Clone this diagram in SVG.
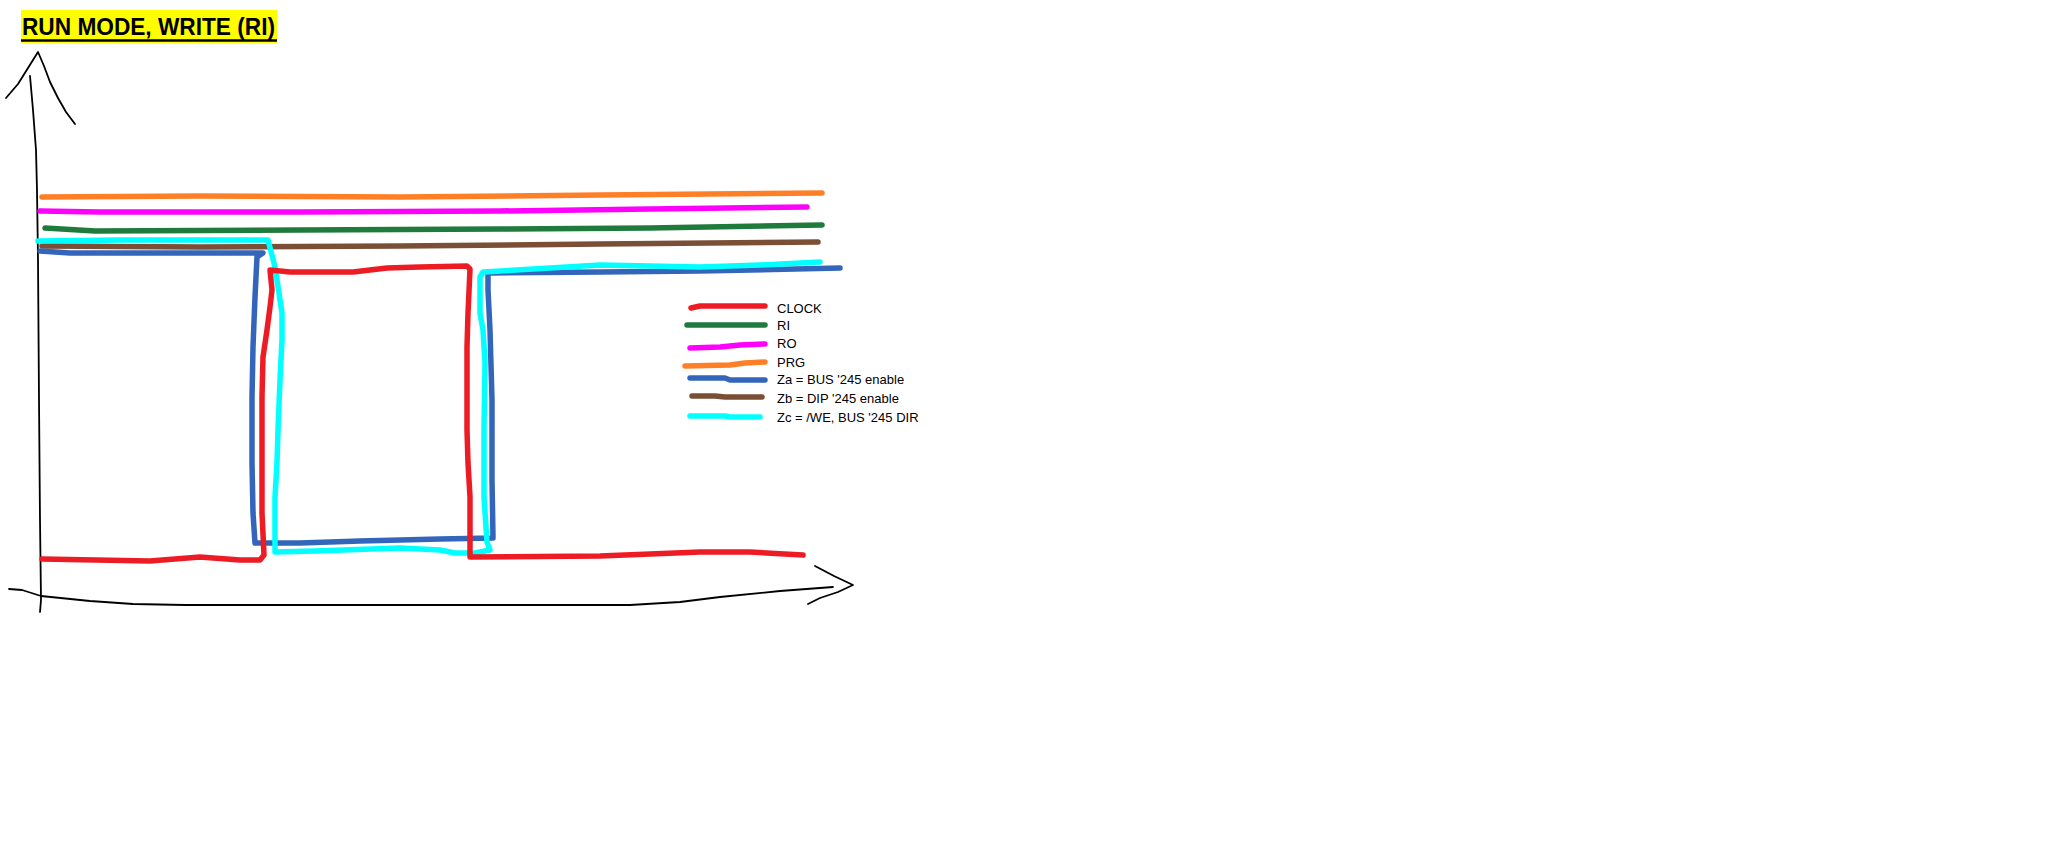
<svg xmlns="http://www.w3.org/2000/svg" width="2064" height="864" viewBox="0 0 2064 864">
<style>
.ax{fill:none;stroke:#000;stroke-width:1.8;stroke-linecap:round;stroke-linejoin:round}
.sig{fill:none;stroke-width:5.5;stroke-linecap:round;stroke-linejoin:round}
.clk{stroke:#ED1C24}.ri{stroke:#1E7B3B}.ro{stroke:#FF00FF}.prg{stroke:#FF7F27}
.za{stroke:#3366BB}.zb{stroke:#7B4F35}.zc{stroke:#00FFFF}
.lbl{font-family:"Liberation Sans",Arial,sans-serif;font-size:13px;fill:#000;dominant-baseline:central}
.title{font-family:"Liberation Sans",Arial,sans-serif;font-size:24px;font-weight:bold;fill:#000}
</style>
<rect width="2064" height="864" fill="#fff"/>
<g id="title">
<rect x="21" y="10" width="256" height="33" fill="#FFFF00"/>
<text class="title" x="22" y="35" textLength="253" lengthAdjust="spacingAndGlyphs">RUN MODE, WRITE (RI)</text>
<line x1="21" y1="40.5" x2="277" y2="40.5" stroke="#000" stroke-width="2.5"/>
</g>
<g id="axes">
<polyline class="ax" points="6,98 18,84 28,68 38,52 44,66 50,82 58,98 66,112 75,124"/>
<polyline class="ax" points="30,76 33,110 36,150 37,190 38,260 39,400 40,520 41,600 40,612"/>
<polyline class="ax" points="9,589 22,590 41,596 90,601 133,604 185,605 300,605 630,605 680,602 720,597 780,591 833,587"/>
<polyline class="ax" points="815,566 834,576 853,585 838,592 820,598 808,604"/>
</g>
<g id="connectors">
<polyline id="prg" class="sig prg" points="42,197 200,196 400,197 600,195 822,193"/>
<polyline id="ro" class="sig ro" points="40,211 100,212 300,212 500,211 650,209 807,207"/>
<polyline id="ri" class="sig ri" points="45,228 95,231 300,230 500,229 650,228 822,225"/>
<polyline id="zb" class="sig zb" points="42,246 200,247 400,246 600,244 818,242"/>
<polyline id="za" class="sig za" points="40,251 70,253 263,253 257,257 255,297 253,347 252,397 252,463 253,513 255,543 300,543 360,541 440,539 493,538 492,480 492,400 490,330 488,290 488,273 600,272 700,271 840,268"/>
<polyline id="zc" class="sig zc" points="38,241 120,240 268,240 275,267 282,313 282,340 280,380 278,430 277,463 275,497 275,552 315,551 400,548 440,550 455,553 475,553 490,550 487,542 484,497 484,430 485,363 483,330 480,313 480,277 483,272 600,265 700,267 760,265 820,262"/>
<polyline id="clock" class="sig clk" points="42,559 150,561 200,557 240,560 260,560 264,555 262,513 262,397 263,357 267,330 270,307 272,290 270,270 290,272 353,272 387,268 420,267 467,266 470,269 468,313 467,347 467,430 468,463 470,497 470,557 600,556 700,552 750,552 803,555"/>
</g>
<g id="legend">
<g id="leg-clock"><polyline class="sig clk" points="691,308 700,306 765,306"/><text class="lbl" x="777" y="308">CLOCK</text></g>
<g id="leg-ri"><polyline class="sig ri" points="687,325 765,325"/><text class="lbl" x="777" y="325">RI</text></g>
<g id="leg-ro"><polyline class="sig ro" points="690,348 720,347 740,345 765,344"/><text class="lbl" x="777" y="343">RO</text></g>
<g id="leg-prg"><polyline class="sig prg" points="685,366 730,365 745,363 765,362"/><text class="lbl" x="777" y="362">PRG</text></g>
<g id="leg-za"><polyline class="sig za" points="690,378 725,378 730,380 765,380"/><text class="lbl" x="777" y="379">Za = BUS '245 enable</text></g>
<g id="leg-zb"><polyline class="sig zb" points="692,396 715,396 725,397 762,397"/><text class="lbl" x="777" y="398">Zb = DIP '245 enable</text></g>
<g id="leg-zc"><polyline class="sig zc" points="690,416 725,416 730,417 760,417"/><text class="lbl" x="777" y="417">Zc = /WE, BUS '245 DIR</text></g>
</g>
</svg>
